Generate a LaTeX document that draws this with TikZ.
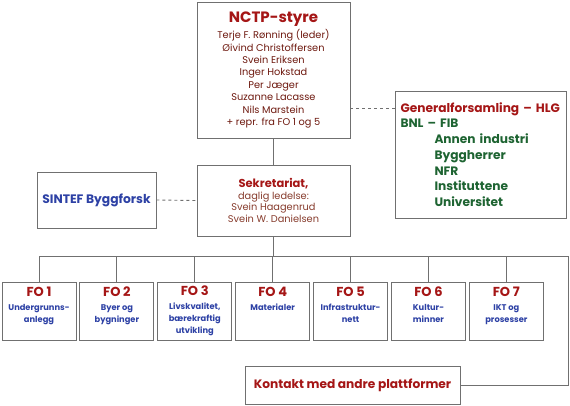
\documentclass[tikz,border=0pt]{standalone}
\usepackage{fontspec}
\setmainfont{Poppins}
\usetikzlibrary{positioning}
\definecolor{linegray}{RGB}{112,112,112}
\definecolor{titlered}{RGB}{165,22,22}
\definecolor{namered}{RGB}{110,25,15}
\definecolor{sekbrown}{RGB}{135,60,45}
\definecolor{foblue}{RGB}{45,65,165}
\definecolor{bnlgreen}{RGB}{30,100,50}
\tikzset{
box/.style={draw=linegray, line width=0.9pt, fill=white, inner sep=0pt, align=center},
fobox/.style={box, minimum width=74pt, minimum height=58pt, font=\fontsize{8.3}{12}\selectfont\bfseries, text=foblue},
link/.style={draw=linegray, line width=0.9pt},
title/.style={font=\fontsize{12.2}{14}\selectfont\bfseries, text=titlered},
}
\newcommand{\fotitle}[1]{\textcolor{titlered}{\fontsize{13}{14}\selectfont #1}\\[2pt]}

\begin{document}
\begin{tikzpicture}[x=1pt, y=-1pt]
		\useasboundingbox (0,0) rectangle (570,405);
		% styre and sekretariat
		\node[box, minimum width=153pt, minimum height=136pt, font=\fontsize{9.8}{12.4}\selectfont, text=namered] (nctp) at (273.5,70) {\textcolor{titlered}{\fontsize{15}{15}\selectfont\bfseries NCTP-styre}\\[2pt]Terje F. Rønning (leder)\\Øivind Christoffersen\\Svein Eriksen\\Inger Hokstad\\Per Jæger\\Suzanne Lacasse\\Nils Marstein\\+ repr. fra FO 1 og 5};
		\node[box, minimum width=153pt, minimum height=71pt, font=\fontsize{9.8}{11.5}\selectfont, text=sekbrown] (sek) at (273.5,200.5) {\textcolor{titlered}{\fontsize{11.5}{12}\selectfont\bfseries Sekretariat,}\\daglig ledelse:\\Svein Haagenrud\\Svein W. Danielsen};
		\node[box, minimum width=119pt, minimum height=56pt, font=\fontsize{12.3}{14}\selectfont\bfseries, text=foblue] (sintef) at (96.5,200) {SINTEF Byggforsk};
		\node[box, minimum width=171pt, minimum height=127pt, text width=160pt, font=\fontsize{12.2}{15.7}\selectfont\bfseries, text=bnlgreen, align=left] (hlg) at (480.5,154.5) {\textcolor{titlered}{Generalforsamling -- HLG}\\BNL -- FIB\\\hspace*{34pt}Annen industri\\\hspace*{34pt}Byggherrer\\\hspace*{34pt}NFR\\\hspace*{34pt}Instituttene\\\hspace*{34pt}Universitet};
		% forskningsomraader
		\node[fobox] (fo1) at (39,311) {\fotitle{FO 1}Undergrunns-\\anlegg\\~};
		\node[fobox, right=3pt of fo1] (fo2) {\fotitle{FO 2}Byer og\\bygninger\\~};
		\node[fobox, right=3pt of fo2] (fo3) {\fotitle{FO 3}Livskvalitet,\\bærekraftig\\utvikling};
		\node[fobox, right=3pt of fo3] (fo4) {\fotitle{FO 4}Materialer\\~\\~};
		\node[fobox, right=3pt of fo4] (fo5) {\fotitle{FO 5}Infrastruktur-\\nett\\~};
		\node[fobox, right=3pt of fo5] (fo6) {\fotitle{FO 6}Kultur-\\minner\\~};
		\node[fobox, right=3pt of fo6] (fo7) {\fotitle{FO 7}IKT og\\prosesser\\~};
		\node[box, minimum width=215pt, minimum height=38pt, title] (kontakt) at (352.5,385) {Kontakt med andre plattformer};
		\coordinate (busL) at (39,256);
		\coordinate (busR) at (568,256);
		\coordinate (hlgin) at (395,108);
		% connectors
		\draw[link] (nctp.south) to (sek.north);
		\draw[link, dashed] (nctp.east |- hlgin) to (hlgin);
		\draw[link, dashed] (sintef.east) to (sek.west);
		\draw[link] (sek.south) to (sek.south |- busL);
		\draw[link] (busL) to (busR) |- (kontakt.east);
		\foreach \i in {1,...,7}
			\draw[link] (fo\i.north) to (fo\i.north |- busL);
	\end{tikzpicture}
\end{document}
